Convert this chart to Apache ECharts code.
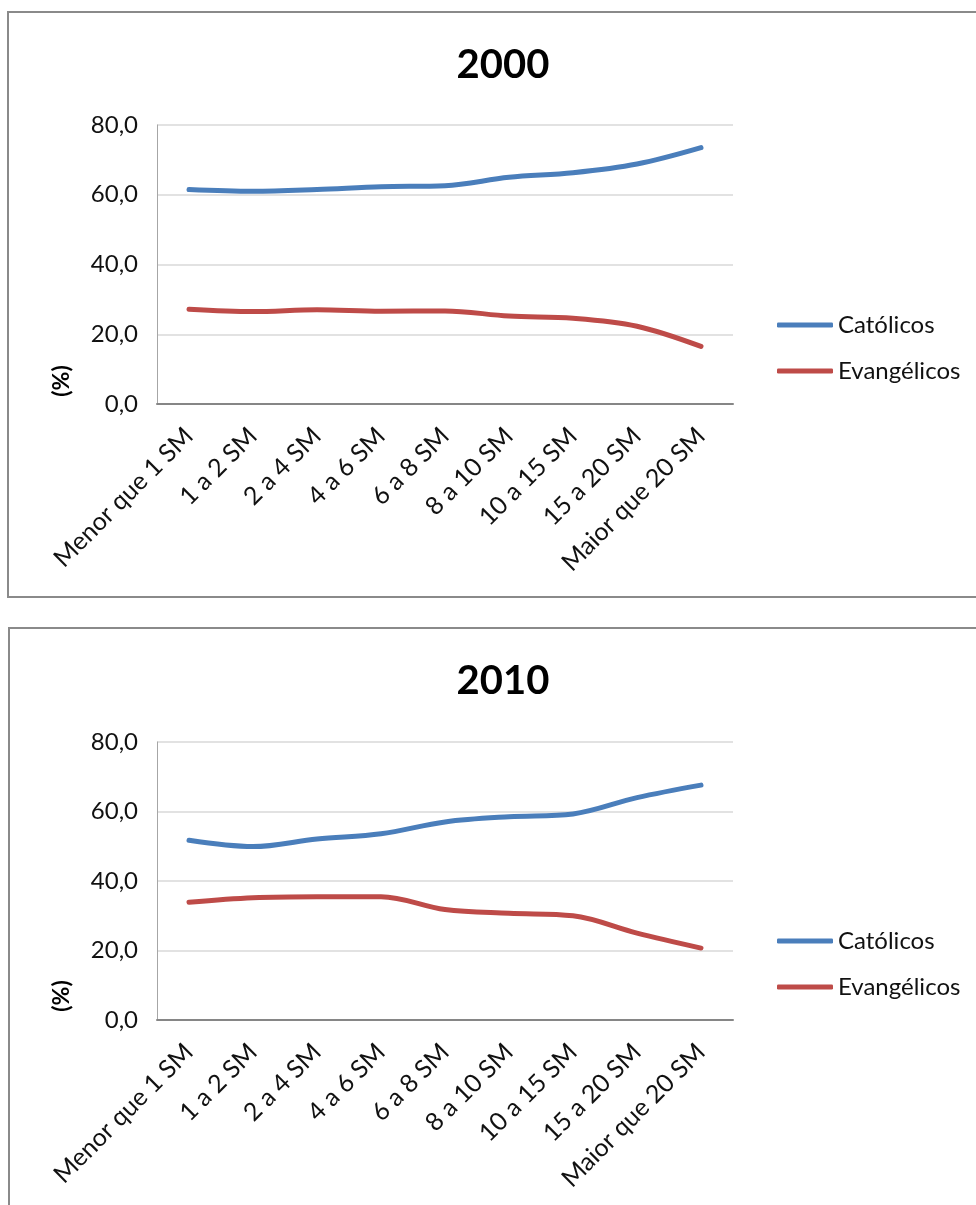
<!DOCTYPE html>
<html>
<head>
<meta charset="utf-8">
<script src="https://cdn.jsdelivr.net/npm/echarts@6/dist/echarts.min.js"></script>
<style>
html,body{margin:0;padding:0;background:#fff;}
#c{width:976px;height:1205px;}
</style>
</head>
<body>
<div id="c"></div>
<script>
const categories = ['Menor que 1 SM','1 a 2 SM','2 a 4 SM','4 a 6 SM','6 a 8 SM','8 a 10 SM','10 a 15 SM','15 a 20 SM','Maior que 20 SM'];
const catolicos2000 = [61.5, 61.0, 61.5, 62.3, 62.6, 65.0, 66.3, 68.8, 73.5];
const evangelicos2000 = [27.2, 26.5, 27.0, 26.6, 26.7, 25.2, 24.6, 22.3, 16.5];
const catolicos2010 = [51.7, 49.9, 52.1, 53.6, 57.0, 58.5, 59.3, 64.0, 67.6];
const evangelicos2010 = [33.9, 35.2, 35.5, 35.5, 31.8, 30.7, 30.0, 25.0, 20.7];
const titles = ['2000', '2010'];
const seriesNames = ['Católicos', 'Evangélicos'];
const yTicks = {min: 0, max: 80, interval: 20};

const FONT = 'Lato, "Open Sans", sans-serif';
const BLUE = '#4A7EBB';
const RED = '#BE4B48';

const chart = echarts.init(document.getElementById('c'), null, {renderer: 'canvas'});

function xAxis(gi) {
  return {
    type: 'category', gridIndex: gi, data: categories, boundaryGap: true,
    axisLine: {show: true, lineStyle: {color: '#868686', width: 2}},
    axisTick: {show: false},
    axisLabel: {rotate: 45, fontSize: 25, color: '#111', fontFamily: FONT, margin: 28, interval: 0}
  };
}
function yAxis(gi) {
  return {
    type: 'value', gridIndex: gi, min: yTicks.min, max: yTicks.max, interval: yTicks.interval,
    axisLine: {show: true, lineStyle: {color: '#a6a6a6', width: 1}},
    axisTick: {show: false},
    splitLine: {lineStyle: {color: '#d9d9d9', width: 1.5}},
    axisLabel: {fontSize: 24, color: '#111', fontFamily: FONT, margin: 19,
      formatter: v => v.toFixed(1).replace('.', ',')}
  };
}
function line(name, data, color, gi) {
  return {
    type: 'line', name: name, data: data, xAxisIndex: gi, yAxisIndex: gi,
    smooth: 0.35, showSymbol: false, symbol: 'none', color: color,
    lineStyle: {color: color, width: 5, cap: 'round'}
  };
}
function legend(top) {
  return {
    left: 772, top: top, orient: 'vertical', itemGap: 22,
    itemWidth: 56, itemHeight: 5, icon: 'roundRect',
    data: seriesNames,
    textStyle: {fontSize: 24, color: '#111', fontFamily: FONT, padding: [0, 0, 0, 0]}
  };
}

chart.setOption({
  animation: false,
  title: [
    {text: titles[0], left: 498, top: 40, textAlign: 'center',
     textStyle: {fontSize: 40, fontWeight: 'bold', color: '#000', fontFamily: FONT}},
    {text: titles[1], left: 498, top: 656, textAlign: 'center',
     textStyle: {fontSize: 40, fontWeight: 'bold', color: '#000', fontFamily: FONT}}
  ],
  legend: [legend(308), legend(924)],
  grid: [
    {left: 157, top: 125, width: 576, height: 279, containLabel: false},
    {left: 157, top: 742, width: 576, height: 278, containLabel: false}
  ],
  xAxis: [xAxis(0), xAxis(1)],
  yAxis: [yAxis(0), yAxis(1)],
  series: [
    line(seriesNames[0], catolicos2000, BLUE, 0),
    line(seriesNames[1], evangelicos2000, RED, 0),
    line(seriesNames[0], catolicos2010, BLUE, 1),
    line(seriesNames[1], evangelicos2010, RED, 1)
  ],
  graphic: [
    {type: 'rect', shape: {x: 8, y: 12, width: 1000, height: 585}, style: {fill: 'none', stroke: '#8a8a8a', lineWidth: 2}, silent: true},
    {type: 'rect', shape: {x: 9, y: 628, width: 1000, height: 700}, style: {fill: 'none', stroke: '#8a8a8a', lineWidth: 2}, silent: true},
    {type: 'text', x: 62, y: 381, rotation: Math.PI / 2,
     style: {text: '(%)', font: 'bold 23px ' + FONT, fill: '#000', align: 'center', verticalAlign: 'middle'}},
    {type: 'text', x: 62, y: 996, rotation: Math.PI / 2,
     style: {text: '(%)', font: 'bold 23px ' + FONT, fill: '#000', align: 'center', verticalAlign: 'middle'}}
  ]
});
</script>
</body>
</html>
